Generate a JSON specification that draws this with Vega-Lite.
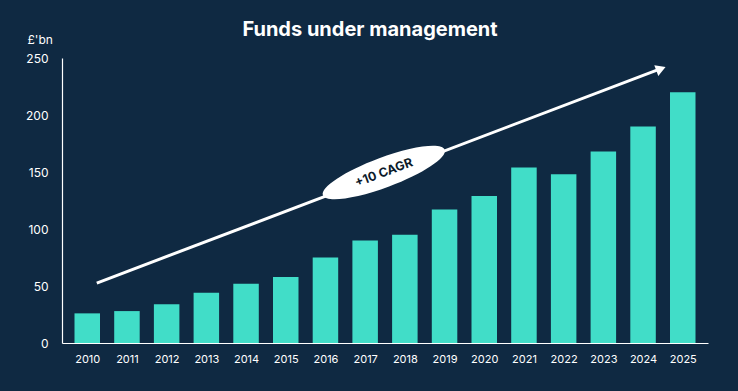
{
  "$schema": "https://vega.github.io/schema/vega-lite/v6.json",
  "width": 646,
  "height": 285,
  "autosize": {"type": "none"},
  "padding": {"left": 62, "top": 58, "right": 30, "bottom": 48},
  "background": "#0F2942",
  "title": {
    "text": "Funds under management",
    "color": "#FFFFFF",
    "font": "Inter",
    "fontSize": 20,
    "fontWeight": "bold",
    "anchor": "middle",
    "dx": -15,
    "offset": -7
  },
  "config": {
    "view": {"stroke": null},
    "font": "Inter"
  },
  "datasets": {
    "funds": [
      {"year": 2010, "value": 26},
      {"year": 2011, "value": 28},
      {"year": 2012, "value": 34},
      {"year": 2013, "value": 44},
      {"year": 2014, "value": 52},
      {"year": 2015, "value": 58},
      {"year": 2016, "value": 75},
      {"year": 2017, "value": 90},
      {"year": 2018, "value": 95},
      {"year": 2019, "value": 117},
      {"year": 2020, "value": 129},
      {"year": 2021, "value": 154},
      {"year": 2022, "value": 148},
      {"year": 2023, "value": 168},
      {"year": 2024, "value": 190},
      {"year": 2025, "value": 220}
    ],
    "arrow": [
      {"x1": 2010.24, "y1": 52.6, "x2": 2024.4, "y2": 240}
    ],
    "head": [
      {"x": 2024.45, "y": 240.5}
    ],
    "label": [
      {"x": 2017.47, "y": 149.5, "text": "+10 CAGR"}
    ]
  },
  "layer": [
    {
      "data": {"name": "funds"},
      "mark": {"type": "bar", "color": "#41DDC8", "size": 25.5},
      "encoding": {
        "x": {
          "field": "year",
          "type": "quantitative",
          "scale": {"domain": [2009.49, 2025.51], "nice": false, "zero": false},
          "axis": {
            "title": null,
            "values": [2010, 2011, 2012, 2013, 2014, 2015, 2016, 2017, 2018, 2019, 2020, 2021, 2022, 2023, 2024, 2025],
            "format": "d",
            "grid": false,
            "ticks": false,
            "tickSize": 0,
            "domainColor": "#FFFFFF",
            "domainWidth": 1.2,
            "labelColor": "#FFFFFF",
            "labelFontSize": 11,
            "labelPadding": 10,
            "labelFont": "Inter"
          }
        },
        "y": {
          "field": "value",
          "type": "quantitative",
          "scale": {"domain": [0, 250], "nice": false},
          "axis": {
            "title": "£'bn",
            "titleAngle": 0,
            "titleAlign": "left",
            "titleBaseline": "alphabetic",
            "titleX": -35,
            "titleY": -15,
            "titleColor": "#FFFFFF",
            "titleFontSize": 12,
            "titleFontWeight": "normal",
            "titleFont": "Inter",
            "values": [0, 50, 100, 150, 200, 250],
            "grid": false,
            "ticks": false,
            "tickSize": 0,
            "domainColor": "#FFFFFF",
            "domainWidth": 1.2,
            "labelColor": "#FFFFFF",
            "labelFontSize": 12,
            "labelPadding": 14,
            "labelFont": "Inter"
          }
        }
      }
    },
    {
      "data": {"name": "arrow"},
      "mark": {"type": "rule", "color": "#FFFFFF", "strokeWidth": 3},
      "encoding": {
        "x": {"field": "x1", "type": "quantitative"},
        "x2": {"field": "x2"},
        "y": {"field": "y1", "type": "quantitative"},
        "y2": {"field": "y2"}
      }
    },
    {
      "data": {"name": "head"},
      "mark": {"type": "point", "shape": "triangle-right", "filled": true, "color": "#FFFFFF", "opacity": 1, "size": 130, "angle": -20.5},
      "encoding": {
        "x": {"field": "x", "type": "quantitative"},
        "y": {"field": "y", "type": "quantitative"}
      }
    },
    {
      "data": {"name": "label"},
      "mark": {
        "type": "point",
        "shape": "M -1 0 C -1 -0.127 -0.552 -0.23 0 -0.23 C 0.552 -0.23 1 -0.127 1 0 C 1 0.127 0.552 0.23 0 0.23 C -0.552 0.23 -1 0.127 -1 0 Z",
        "filled": true,
        "color": "#FFFFFF",
        "opacity": 1,
        "size": 16900,
        "angle": -20.5
      },
      "encoding": {
        "x": {"field": "x", "type": "quantitative"},
        "y": {"field": "y", "type": "quantitative"}
      }
    },
    {
      "data": {"name": "label"},
      "mark": {"type": "text", "color": "#0B1A2A", "font": "Inter", "fontSize": 12.5, "fontWeight": "bold", "angle": -20.5, "align": "center", "baseline": "middle"},
      "encoding": {
        "x": {"field": "x", "type": "quantitative"},
        "y": {"field": "y", "type": "quantitative"},
        "text": {"field": "text"}
      }
    }
  ]
}
